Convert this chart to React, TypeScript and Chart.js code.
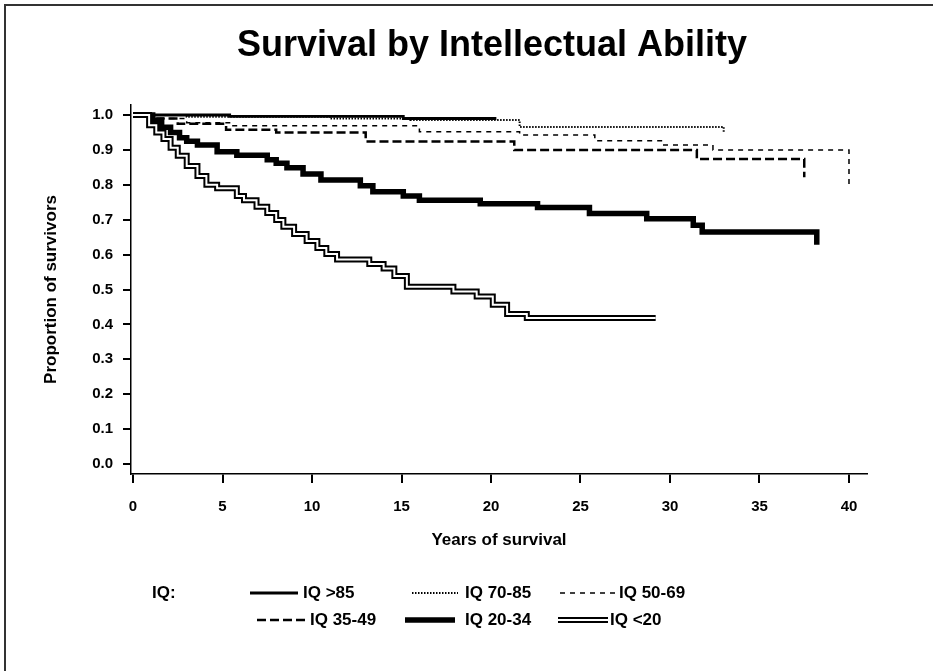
import React, { useEffect, useRef } from 'react';
import { Chart, registerables } from 'chart.js';

Chart.register(...registerables);

// ---------- text ----------
const TITLE = 'Survival by Intellectual Ability';
const X_TITLE = 'Years of survival';
const Y_TITLE = 'Proportion of survivors';
const LEGEND_HEADING = 'IQ:';

// ---------- tick labels ----------
const xTicks = [0, 5, 10, 15, 20, 25, 30, 35, 40];
const yTicks = [0.0, 0.1, 0.2, 0.3, 0.4, 0.5, 0.6, 0.7, 0.8, 0.9, 1.0];

// ---------- series labels ----------
const seriesLabels = ['IQ >85', 'IQ 70-85', 'IQ 50-69', 'IQ 35-49', 'IQ 20-34', 'IQ <20'];

// ---------- Kaplan-Meier step data (years, proportion surviving) ----------
const iqOver85Years = [0, 5.4, 15.1, 20.3];
const iqOver85Surv = [1.0, 0.996, 0.99, 0.99];

const iq70to85Years = [0, 3.0, 11.0, 15.5, 21.6, 33.0, 33.0];
const iq70to85Surv = [1.0, 0.995, 0.99, 0.986, 0.966, 0.966, 0.948];

const iq50to69Years = [0, 1.5, 3.0, 5.5, 16.0, 21.6, 25.8, 29.6, 32.4, 40.0, 40.0];
const iq50to69Surv = [1.0, 0.99, 0.978, 0.969, 0.952, 0.943, 0.926, 0.914, 0.9, 0.9, 0.795];

const iq35to49Years = [0, 1.3, 2.5, 5.2, 8.0, 13.0, 21.3, 31.5, 37.5, 37.5];
const iq35to49Surv = [1.0, 0.99, 0.975, 0.958, 0.95, 0.924, 0.9, 0.874, 0.874, 0.822];

const iq20to34Years = [0, 1.1, 1.6, 2.1, 2.6, 3.0, 3.6, 4.7, 5.8, 7.5, 8.0, 8.6, 9.5, 10.5, 12.7, 13.4, 15.1, 16.0, 19.4, 22.6, 25.5, 28.7, 31.3, 31.8, 38.2, 38.2];
const iq20to34Surv = [1.0, 0.985, 0.965, 0.95, 0.935, 0.925, 0.914, 0.895, 0.885, 0.872, 0.862, 0.849, 0.831, 0.814, 0.797, 0.78, 0.768, 0.756, 0.746, 0.735, 0.718, 0.703, 0.684, 0.665, 0.665, 0.628];

const iqUnder20Years = [0, 0.9, 1.3, 1.7, 2.1, 2.5, 3.0, 3.6, 4.1, 4.7, 5.8, 6.2, 6.9, 7.5, 8.0, 8.4, 9.0, 9.7, 10.3, 10.8, 11.4, 13.2, 14.0, 14.6, 15.3, 17.9, 19.2, 20.1, 20.9, 22.0, 29.2];
const iqUnder20Surv = [1.0, 0.971, 0.95, 0.931, 0.906, 0.883, 0.854, 0.825, 0.8, 0.79, 0.768, 0.756, 0.737, 0.719, 0.699, 0.68, 0.659, 0.639, 0.619, 0.602, 0.586, 0.573, 0.56, 0.539, 0.508, 0.494, 0.48, 0.456, 0.43, 0.418, 0.418];

const seriesYears = [iqOver85Years, iq70to85Years, iq50to69Years, iq35to49Years, iq20to34Years, iqUnder20Years];
const seriesSurv = [iqOver85Surv, iq70to85Surv, iq50to69Surv, iq35to49Surv, iq20to34Surv, iqUnder20Surv];

// ---------- styles (kept apart from data) ----------
type LineStyle = { width: number; dash: number[]; double?: boolean };
const lineStyles: LineStyle[] = [
  { width: 2.8, dash: [] },
  { width: 2, dash: [1.5, 1.5] },
  { width: 1.5, dash: [5, 5] },
  { width: 2.5, dash: [9, 4] },
  { width: 5.5, dash: [] },
  { width: 6, dash: [], double: true },
];

const FONT = '"Liberation Sans", Arial, Helvetica, sans-serif';
const INK = '#000';

// legend placement (layout only)
const legendHeadingPos = { x: 152, y: 593 };
const legendLayout = [
  { x1: 250, x2: 298, tx: 303, y: 593 },
  { x1: 412, x2: 458, tx: 465, y: 593 },
  { x1: 560, x2: 617, tx: 619, y: 593 },
  { x1: 257, x2: 308, tx: 310, y: 620 },
  { x1: 405, x2: 455, tx: 465, y: 620 },
  { x1: 558, x2: 608, tx: 610, y: 620 },
];

const textPlugin = {
  id: 'titleAndLegend',
  afterDraw(chart: any) {
    const ctx: CanvasRenderingContext2D = chart.ctx;
    ctx.save();
    ctx.fillStyle = INK;
    ctx.font = `bold 36px ${FONT}`;
    ctx.textAlign = 'center';
    ctx.textBaseline = 'alphabetic';
    ctx.fillText(TITLE, 492, 56);

    ctx.font = `bold 17px ${FONT}`;
    ctx.textAlign = 'left';
    ctx.textBaseline = 'middle';
    ctx.fillText(LEGEND_HEADING, legendHeadingPos.x, legendHeadingPos.y);

    seriesLabels.forEach((label, i) => {
      const pos = legendLayout[i];
      const st = lineStyles[i];
      ctx.save();
      ctx.lineCap = 'butt';
      ctx.strokeStyle = INK;
      ctx.lineWidth = st.width;
      ctx.setLineDash(st.dash);
      ctx.beginPath();
      ctx.moveTo(pos.x1, pos.y);
      ctx.lineTo(pos.x2, pos.y);
      ctx.stroke();
      if (st.double) {
        ctx.strokeStyle = '#fff';
        ctx.lineWidth = 2;
        ctx.beginPath();
        ctx.moveTo(pos.x1, pos.y);
        ctx.lineTo(pos.x2, pos.y);
        ctx.stroke();
      }
      ctx.restore();
      ctx.fillText(label, pos.tx, pos.y);
    });
    ctx.restore();
  },
};

export default function App() {
  const canvasRef = useRef<HTMLCanvasElement>(null);

  useEffect(() => {
    const canvas = canvasRef.current;
    if (!canvas) return;

    const datasets: any[] = [];
    seriesLabels.forEach((label, i) => {
      const pts = seriesYears[i].map((t, j) => ({ x: t, y: seriesSurv[i][j] }));
      const st = lineStyles[i];
      datasets.push({
        label,
        data: pts,
        borderColor: INK,
        borderWidth: st.width,
        borderDash: st.dash,
        stepped: true,
        pointRadius: 0,
        pointHoverRadius: 0,
        fill: false,
        order: 2,
      });
      if (st.double) {
        datasets.push({
          label: label + ' inner',
          data: pts,
          borderColor: '#fff',
          borderWidth: 2,
          stepped: true,
          pointRadius: 0,
          pointHoverRadius: 0,
          fill: false,
          order: 1,
        });
      }
    });

    const tickFont = { family: FONT, size: 15, weight: 'bold' as const };
    const titleFont = { family: FONT, size: 17, weight: 'bold' as const };

    const chart = new Chart(canvas, {
      type: 'line',
      data: { datasets },
      options: {
        responsive: false,
        animation: false,
        events: [],
        layout: { padding: { left: 0, top: 105, right: 66, bottom: 120 } },
        plugins: {
          legend: { display: false },
          title: { display: false },
          tooltip: { enabled: false },
        },
        elements: { line: { tension: 0 } },
        scales: {
          x: {
            type: 'linear',
            min: -0.112,
            max: 41.006,
            afterBuildTicks: (s: any) => {
              s.ticks = xTicks.map((v) => ({ value: v }));
            },
            afterFit: (s: any) => {
              s.height = 77;
            },
            grid: { drawOnChartArea: false, drawTicks: true, tickLength: 9, color: INK, lineWidth: 2 },
            border: { display: true, color: INK, width: 1.5 },
            ticks: {
              color: INK,
              font: tickFont,
              padding: 15,
              maxRotation: 0,
              autoSkip: false,
              callback: (v: any) => String(v),
            },
            title: { display: true, text: X_TITLE, color: INK, font: titleFont, padding: { top: 0, bottom: 0 } },
          },
          y: {
            type: 'linear',
            min: -0.0287,
            max: 1.0287,
            afterBuildTicks: (s: any) => {
              s.ticks = yTicks.map((v) => ({ value: v }));
            },
            afterFit: (s: any) => {
              s.width = 131;
            },
            grid: { drawOnChartArea: false, drawTicks: true, tickLength: 8, color: INK, lineWidth: 2 },
            border: { display: true, color: INK, width: 1.5 },
            ticks: {
              color: INK,
              font: tickFont,
              padding: 10,
              autoSkip: false,
              callback: (v: any) => Number(v).toFixed(1),
            },
            title: { display: true, text: Y_TITLE, color: INK, font: titleFont, padding: { top: 41, bottom: 0 } },
          },
        },
      },
      plugins: [textPlugin],
    });

    return () => chart.destroy();
  }, []);

  return (
    <>
      <div
        style={{
          position: 'fixed',
          left: 4,
          top: 4,
          width: 927,
          height: 665,
          borderTop: '2px solid #333',
          borderLeft: '2px solid #333',
          pointerEvents: 'none',
        }}
      />
      <canvas
        ref={canvasRef}
        width={933}
        height={671}
        style={{ position: 'fixed', left: 0, top: 0, width: 933, height: 671, display: 'block' }}
      />
    </>
  );
}
